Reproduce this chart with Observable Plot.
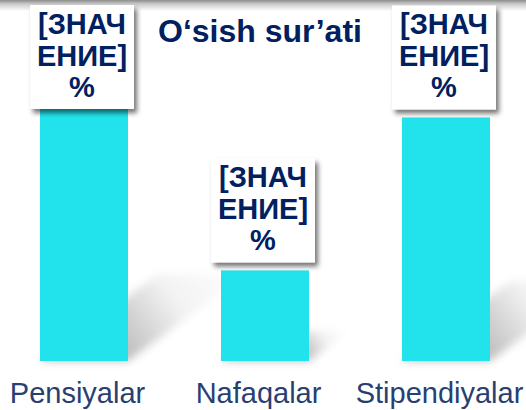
<!DOCTYPE html>
<html>
<head>
<meta charset="utf-8">
<script src="https://cdn.jsdelivr.net/npm/d3@7"></script>
<script src="https://cdn.jsdelivr.net/npm/@observablehq/plot@0.6"></script>
<style>
  html, body { margin: 0; padding: 0; background: #fff; }
  #chart { position: relative; width: 526px; height: 410px; overflow: hidden; background: #fff; }
  #topshade { position: absolute; left: 0; top: 0; width: 526px; height: 11px;
              background: linear-gradient(to bottom, #8c8c8c 0%, #c8c8c8 35%, rgba(255,255,255,0) 100%); }
  #chart svg { position: absolute; left: 0; top: 0; }
</style>
</head>
<body>
<div id="chart"><div id="topshade"></div></div>
<script>
// ---- data ----
const categories = ["Pensiyalar", "Nafaqalar", "Stipendiyalar"];
const values = [27, 9.3, 25];
const labelLines = ["[ЗНАЧ", "ЕНИЕ]", "%"];
const titleText = "O‘sish sur’ati";

const data = categories.map((c, i) => ({category: c, value: values[i]}));

const FONT = "'Liberation Sans', Arial, sans-serif";
const NAVY = "#002060";
const CYAN = "#22E3EC";

// perspective shadows cast by the bars
function barShadows(index, scales) {
  const x = scales.x, y = scales.y;
  const g = d3.create("svg:g");
  const defs = g.append("defs");
  defs.append("filter").attr("id", "shBlur")
    .attr("x", "-50%").attr("y", "-50%").attr("width", "200%").attr("height", "200%")
    .append("feGaussianBlur").attr("stdDeviation", 4);
  data.forEach((d, i) => {
    const x0 = x(d.category), x1 = x0 + x.bandwidth();
    const base = y(0), h = base - y(d.value);
    const ox = h * 0.45, oy = -h * 0.33;
    const gid = "shGrad" + i;
    const grad = defs.append("linearGradient").attr("id", gid)
      .attr("gradientUnits", "userSpaceOnUse")
      .attr("x1", x1).attr("y1", base).attr("x2", x1 + ox).attr("y2", base + oy);
    grad.append("stop").attr("offset", 0).attr("stop-color", "#000").attr("stop-opacity", 0.26);
    grad.append("stop").attr("offset", 0.5).attr("stop-color", "#000").attr("stop-opacity", 0.05);
    grad.append("stop").attr("offset", 1).attr("stop-color", "#000").attr("stop-opacity", 0);
    g.append("polygon")
      .attr("points", [[x0, base], [x1, base], [x1 + ox, base + oy], [x0 + ox, base + oy]].map(p => p.join(",")).join(" "))
      .attr("fill", `url(#${gid})`)
      .attr("filter", "url(#shBlur)");
  });
  return g.node();
}

// white data-label boxes with drop shadow
function labelBoxes(index, scales) {
  const x = scales.x, y = scales.y;
  const g = d3.create("svg:g");
  const defs = g.append("defs");
  const f = defs.append("filter").attr("id", "boxShadow")
    .attr("x", "-30%").attr("y", "-30%").attr("width", "160%").attr("height", "160%");
  f.append("feDropShadow").attr("dx", 3).attr("dy", 4).attr("stdDeviation", 2.5)
    .attr("flood-color", "#000").attr("flood-opacity", 0.55);
  const boxW = 104, boxH = 104, gap = 8, minTop = 5, lineH = 31.5;
  data.forEach(d => {
    const cx = x(d.category) + x.bandwidth() / 2 - 2;
    const top = Math.max(minTop, y(d.value) - gap - boxH);
    g.append("rect").attr("x", cx - boxW / 2).attr("y", top)
      .attr("width", boxW).attr("height", boxH)
      .attr("fill", "#fff").attr("filter", "url(#boxShadow)");
    labelLines.forEach((t, j) => {
      g.append("text").attr("x", cx).attr("y", top + 29 + j * lineH)
        .attr("text-anchor", "middle")
        .attr("font-family", FONT).attr("font-weight", "bold").attr("font-size", 29)
        .attr("fill", NAVY).text(t);
    });
  });
  return g.node();
}

function title(index, scales, values_, dims) {
  return d3.create("svg:text")
    .attr("x", 260).attr("y", 42)
    .attr("text-anchor", "middle")
    .attr("font-family", FONT).attr("font-weight", "bold").attr("font-size", 32)
    .attr("fill", NAVY).text(titleText).node();
}

const axisMark = Plot.axisX
  ? Plot.axisX({tickSize: 0, tickPadding: 21, dx: -7, fontSize: 29, label: null, fill: "#283F72"})
  : null;

const chart = Plot.plot({
  width: 526,
  height: 410,
  marginTop: 98,
  marginBottom: 49,
  marginLeft: 39,
  marginRight: 36,
  style: {background: "transparent", fontFamily: FONT, fontSize: "29px", color: "#283F72", overflow: "visible"},
  x: {domain: categories, paddingInner: 0.515, paddingOuter: 0, align: 0.5, label: null,
      tickSize: 0, tickPadding: 21},
  y: {domain: [0, 27], axis: null},
  marks: [
    barShadows,
    Plot.barY(data, {x: "category", y: "value", fill: CYAN}),
    labelBoxes,
    title,
    axisMark
  ].filter(Boolean)
});

document.getElementById("chart").appendChild(chart);
</script>
</body>
</html>
